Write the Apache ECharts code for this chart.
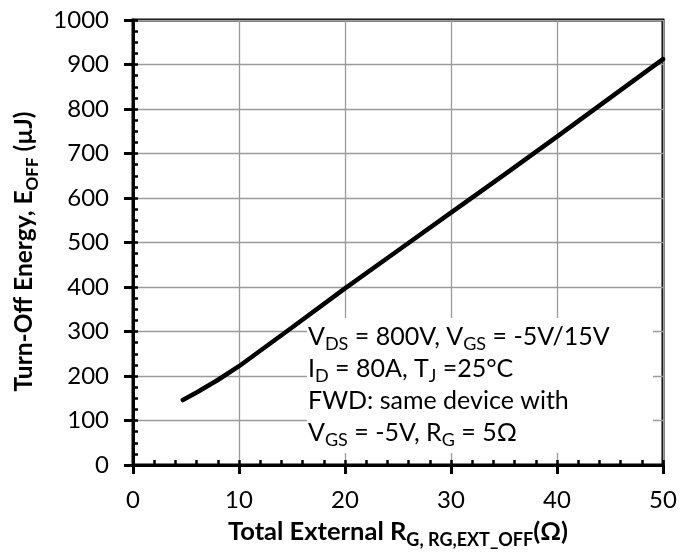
<!DOCTYPE html>
<html>
<head>
<meta charset="utf-8">
<script src="https://cdn.jsdelivr.net/npm/echarts@6/dist/echarts.min.js"></script>
<style>html,body{margin:0;padding:0;background:#fff}#c{width:695px;height:554px}</style>
</head>
<body>
<div id="c"></div>
<script>
// Data
var rgValues = [4.7, 6, 8, 10, 15, 20, 25, 30, 35, 40, 45, 50];
var eoffValues = [146, 163, 191, 222, 309, 397, 482, 567, 652, 738, 825, 912];
var xTicks = [0, 10, 20, 30, 40, 50];
var yTicks = [0, 100, 200, 300, 400, 500, 600, 700, 800, 900, 1000];

var seriesData = rgValues.map(function (x, i) { return [x, eoffValues[i]]; });
var F = 'Lato, "DejaVu Sans", sans-serif';

var chart = echarts.init(document.getElementById('c'), null, {renderer: 'canvas'});
chart.setOption({
  animation: false,
  backgroundColor: '#fff',
  grid: {left: 133, right: 32, top: 20, bottom: 88, show: true, borderColor: '#000', borderWidth: 3, backgroundColor: 'transparent'},
  xAxis: [{
    type: 'value', min: xTicks[0], max: xTicks[xTicks.length - 1], interval: 10,
    name: '{b|Total External R}{g|G,}{r| RG,EXT_OFF}{b|(Ω)}',
    nameLocation: 'middle', nameGap: 50,
    nameTextStyle: {
      rich: {
        b: {fontFamily: F, fontWeight: 'bold', fontSize: 25.5, color: '#000', lineHeight: 34},
        g: {fontFamily: F, fontWeight: 'bold', fontSize: 18, color: '#000', lineHeight: 22, verticalAlign: 'bottom'},
        r: {fontFamily: F, fontWeight: 'bold', fontSize: 18, color: '#000', lineHeight: 14, verticalAlign: 'bottom'}
      }
    },
    axisLine: {show: true, lineStyle: {color: '#000', width: 3}},
    axisTick: {show: true, inside: false, length: 9, lineStyle: {color: '#000', width: 3}},
    axisLabel: {fontFamily: F, fontSize: 24, color: '#000', margin: 23, formatter: function (v) { return String(v); }},
    splitLine: {show: true, lineStyle: {color: '#9a9a9a', width: 1.3}}
  }, {
    type: 'value', min: 0, max: 50, interval: 2, position: 'bottom',
    axisLine: {show: false},
    axisTick: {show: true, inside: true, length: 5, lineStyle: {color: '#000', width: 2.5}},
    axisLabel: {show: false}, splitLine: {show: false}
  }],
  yAxis: [{
    type: 'value', min: yTicks[0], max: yTicks[yTicks.length - 1], interval: 100,
    name: '{b|Turn-Off Energy, E}{s|OFF}{b| (µJ)}',
    nameLocation: 'middle', nameGap: 92,
    nameTextStyle: {
      padding: [0, 18, 0, 0],
      rich: {
        b: {fontFamily: F, fontWeight: 'bold', fontSize: 24.5, color: '#000', lineHeight: 34},
        s: {fontFamily: F, fontWeight: 'bold', fontSize: 17, color: '#000', lineHeight: 22, verticalAlign: 'bottom'}
      }
    },
    axisLine: {show: true, lineStyle: {color: '#000', width: 3}},
    axisTick: {show: true, inside: false, length: 9, lineStyle: {color: '#000', width: 3}},
    axisLabel: {fontFamily: F, fontSize: 24, color: '#000', margin: 24, formatter: function (v) { return String(v); }},
    splitLine: {show: true, lineStyle: {color: '#9a9a9a', width: 1.3}}
  }, {
    type: 'value', min: 0, max: 1000, interval: 25, position: 'left',
    axisLine: {show: false},
    axisTick: {show: true, inside: true, length: 5, lineStyle: {color: '#000', width: 2.5}},
    axisLabel: {show: false}, splitLine: {show: false}
  }],
  graphic: [{
    type: 'rect', z: 1, silent: true,
    shape: {x: 307, y: 318, width: 346, height: 135},
    style: {fill: '#fff'}
  }, {
    type: 'text', z: 3, silent: true, x: 308, y: 321,
    style: {
      text: '{a|V}{s|DS}{a| = 800V, V}{s|GS}{a| = -5V/15V}\n{a|I}{s|D}{a| = 80A, T}{s|J}{a| =25°C}\n{a|FWD: same device with}\n{a|V}{s|GS}{a| = -5V, R}{s|G}{a| = 5Ω}',
      rich: {
        a: {fontFamily: F, fontSize: 25, fill: '#000', lineHeight: 32},
        s: {fontFamily: F, fontSize: 18, fill: '#000', lineHeight: 20, verticalAlign: 'bottom'}
      }
    }
  }],
  series: [{
    type: 'line', xAxisIndex: 0, yAxisIndex: 0, z: 2,
    data: seriesData, showSymbol: false, smooth: false,
    lineStyle: {color: '#000', width: 4.5, cap: 'round'}
  }]
});
</script>
</body>
</html>
